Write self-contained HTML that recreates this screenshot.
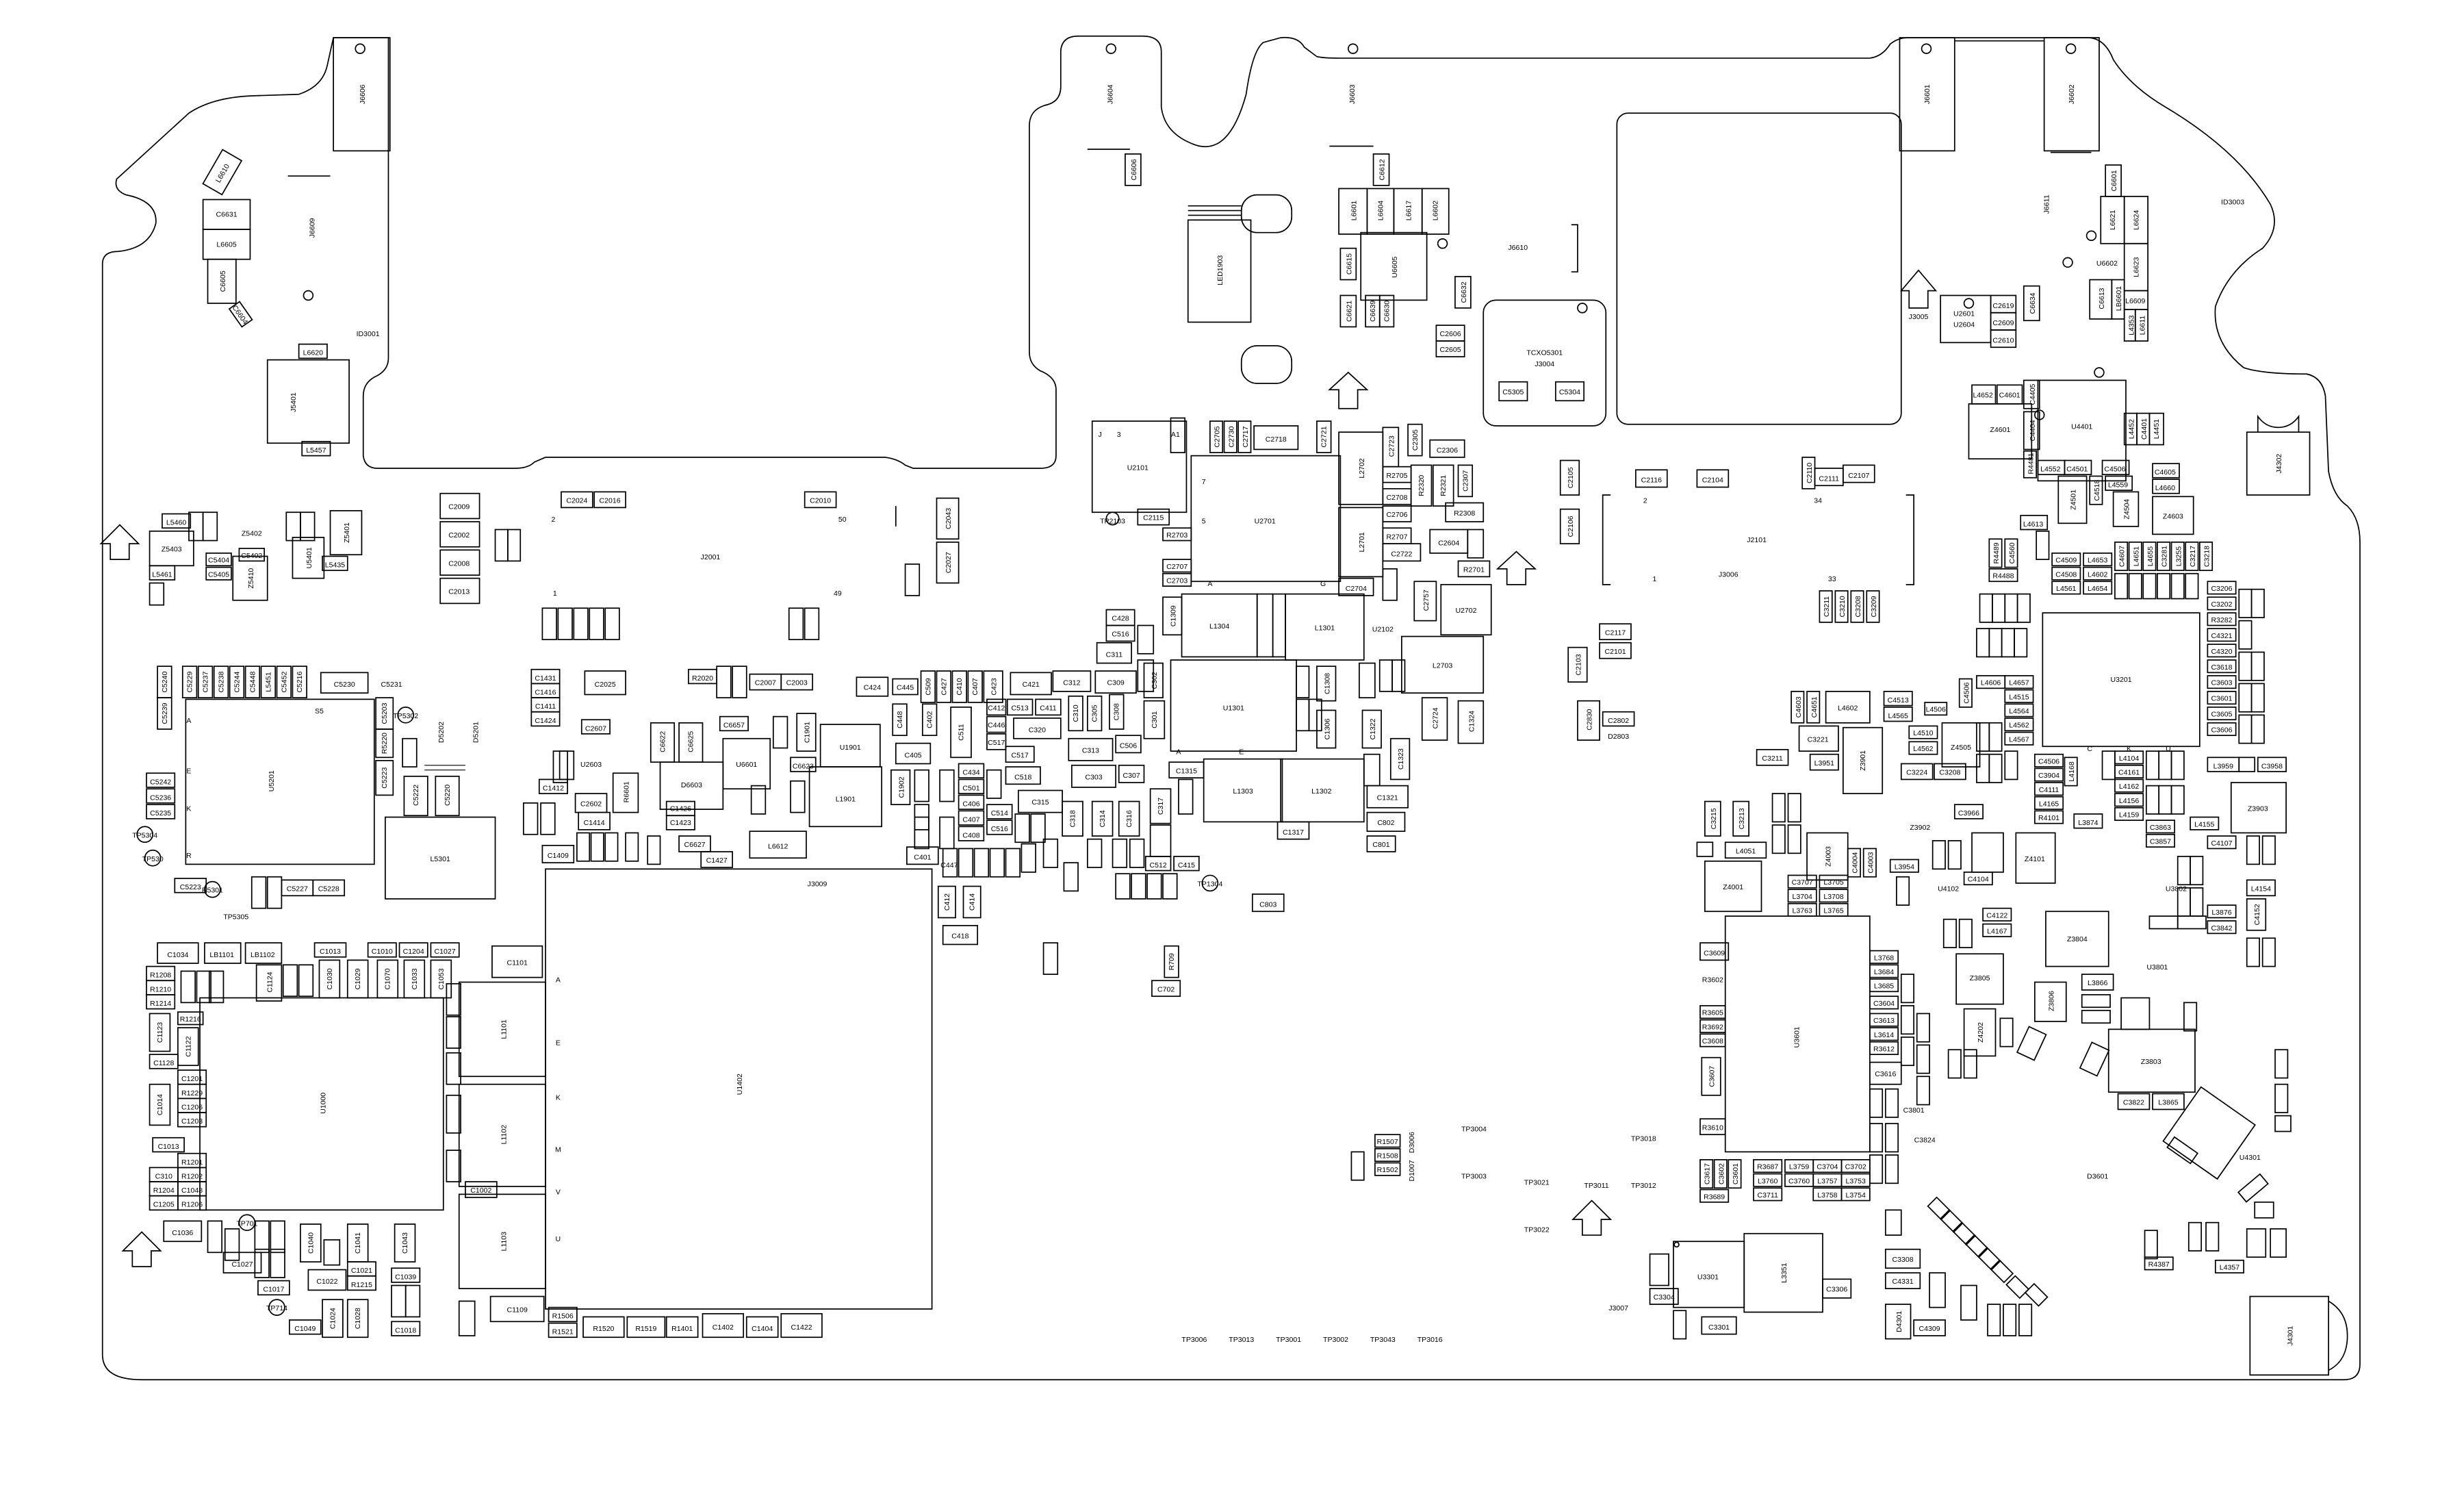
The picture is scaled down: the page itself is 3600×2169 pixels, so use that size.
<!DOCTYPE html>
<html><head><meta charset="utf-8">
<style>
html,body{margin:0;padding:0;background:#fff;}
svg{display:block;}
rect,path,circle,line,polyline,ellipse{fill:none;stroke:#000;stroke-width:.75;}
text{font-family:"Liberation Sans",sans-serif;font-size:4.6px;fill:#000;text-anchor:middle;}
.b{font-size:5.5px;}
.thin{stroke-width:.5;}
</style></head>
<body>
<svg width="3600" height="2169" viewBox="0 0 1568 945" xmlns="http://www.w3.org/2000/svg">
<rect x="0" y="0" width="1568" height="945" style="fill:#fff;stroke:none"/>
<!-- board outline -->
<path d="M65,862 L65,168 Q65,160 75,160 Q95,158 99,142 Q100,128 80,124 Q72,121 74,114 L120,72 Q135,62 160,61 L190,60 Q205,55 208,42 L212,24 L247,24 L247,228 Q247,236 238,240 Q231,244 231,252 L231,290 Q232,298 240,298 L328,298 Q336,298 340,294 L347,291 L563,291 Q571,292 576,296 L581,298 L662,298 Q672,298 672,290 L672,248 Q672,240 662,236 Q655,232 655,224 L655,80 Q655,70 665,67 Q675,65 675,55 L675,32 Q676,23 686,23 L727,23 Q739,23 739,33 L739,68 Q741,85 760,92 Q782,100 793,60 Q797,32 804,27 L815,24 Q826,23 830,30 L838,36 Q842,37 852,37 L1190,37 Q1198,36 1203,28 Q1208,24 1214,24 L1330,24 Q1340,25 1345,38 Q1356,55 1378,68 Q1425,96 1445,130 Q1452,145 1440,158 Q1418,172 1410,195 Q1408,218 1428,234 Q1440,238 1468,238 Q1478,240 1480,252 L1482,300 Q1485,316 1494,322 Q1502,330 1502,345 L1502,868 Q1502,878 1492,878 L90,878 Q65,878 65,862 Z"/>
<rect x="1029" y="72" width="181" height="198" rx="7"/>
<rect x="944" y="191" width="78" height="80" rx="8"/>
<text x="983" y="226">TCXO5301</text><text x="983" y="233">J3004</text>
<!-- top left -->
<rect x="212" y="24" width="36" height="72"/><circle cx="229" cy="31" r="3"/>
<text transform="rotate(-90 230 60)" x="230" y="62">J6606</text>
<line x1="183" y1="112" x2="210" y2="112"/>
<rect x="129" y="103" width="25" height="14" transform="rotate(-60 141 110)"/><text transform="rotate(-60 141 110)" x="141" y="112">L6610</text>
<rect x="129" y="127" width="30" height="19"/><text x="144" y="138">C6631</text>
<rect x="129" y="146" width="30" height="19"/><text x="144" y="157">L6605</text>
<rect x="132" y="165" width="18" height="28"/><text transform="rotate(-90 141 179)" x="141" y="181">C6605</text>
<rect x="146" y="196" width="14" height="8" transform="rotate(55 153 200)"/><text transform="rotate(55 153 200)" x="153" y="202">C6604</text>
<text transform="rotate(-90 198 145)" x="198" y="147">J6609</text>
<circle cx="196" cy="188" r="3"/>
<text x="234" y="214">ID3001</text>
<rect x="190" y="219" width="18" height="9"/><text x="199" y="226">L6620</text>
<rect x="170" y="229" width="52" height="53"/><text transform="rotate(-90 186 256)" x="186" y="258">J5401</text>
<rect x="192" y="281" width="18" height="9"/><text x="201" y="288">L5457</text>
<!-- top middle -->
<text transform="rotate(-90 706 60)" x="706" y="62">J6604</text><circle cx="707" cy="31" r="3"/>
<line x1="692" y1="95" x2="719" y2="95"/>
<rect x="716" y="98" width="10" height="20"/><text transform="rotate(-90 721 108)" x="721" y="110">C6606</text>
<rect x="790" y="124" width="32" height="24" rx="10"/><rect x="790" y="220" width="32" height="24" rx="10"/>
<line x1="756" y1="131" x2="790" y2="131"/><line x1="756" y1="134" x2="790" y2="134"/><line x1="756" y1="137" x2="790" y2="137"/>
<rect x="756" y="140" width="40" height="65"/><text transform="rotate(-90 776 172)" x="776" y="174">LED1903</text>
<text transform="rotate(-90 860 60)" x="860" y="62">J6603</text><circle cx="861" cy="31" r="3"/>
<line x1="846" y1="93" x2="874" y2="93"/>
<rect x="874" y="98" width="10" height="20"/><text transform="rotate(-90 879 108)" x="879" y="110">C6612</text>
<rect x="852" y="120" width="18" height="29"/><text transform="rotate(-90 861 134)" x="861" y="136">L6601</text>
<rect x="870" y="120" width="17" height="29"/><text transform="rotate(-90 878 134)" x="878" y="136">L6604</text>
<rect x="887" y="120" width="18" height="29"/><text transform="rotate(-90 896 134)" x="896" y="136">L6617</text>
<rect x="905" y="120" width="17" height="29"/><text transform="rotate(-90 913 134)" x="913" y="136">L6602</text>
<rect x="866" y="148" width="42" height="43"/><text transform="rotate(-90 887 170)" x="887" y="172">U6605</text>
<circle cx="918" cy="155" r="3"/>
<rect x="853" y="158" width="10" height="20"/><text transform="rotate(-90 858 168)" x="858" y="170">C6615</text>
<rect x="853" y="188" width="10" height="20"/><text transform="rotate(-90 858 198)" x="858" y="200">C6621</text>
<rect x="869" y="188" width="9" height="20"/><text transform="rotate(-90 873 198)" x="873" y="200">C6639</text>
<rect x="878" y="188" width="9" height="20"/><text transform="rotate(-90 882 198)" x="882" y="200">C6630</text>
<rect x="926" y="176" width="10" height="20"/><text transform="rotate(-90 931 186)" x="931" y="188">C6632</text>
<text x="966" y="159">J6610</text>
<polyline points="1000,143 1004,143 1004,173 1000,173"/>
<rect x="914" y="207" width="18" height="10"/><text x="923" y="214">C2606</text>
<rect x="914" y="217" width="18" height="10"/><text x="923" y="224">C2605</text>
<rect x="954" y="243" width="18" height="12"/><text x="963" y="251">C5305</text>
<rect x="990" y="243" width="18" height="12"/><text x="999" y="251">C5304</text>
<circle cx="1007" cy="196" r="3"/>
<path d="M852,260 L852,248 L846,248 L858,237 L870,248 L864,248 L864,260 Z"/>
<!-- top right -->
<rect x="1209" y="24" width="35" height="72"/><circle cx="1226" cy="31" r="3"/><text transform="rotate(-90 1226 60)" x="1226" y="62">J6601</text>
<rect x="1301" y="24" width="35" height="72"/><circle cx="1318" cy="31" r="3"/><text transform="rotate(-90 1318 60)" x="1318" y="62">J6602</text>
<line x1="1244" y1="26" x2="1301" y2="26"/>
<line x1="1305" y1="97" x2="1331" y2="97"/>
<text transform="rotate(-90 1302 130)" x="1302" y="132">J6611</text>
<text x="1421" y="130">ID3003</text>
<rect x="1340" y="105" width="10" height="20"/><text transform="rotate(-90 1345 115)" x="1345" y="117">C6601</text>
<rect x="1337" y="125" width="15" height="30"/><text transform="rotate(-90 1344 140)" x="1344" y="142">L6621</text>
<rect x="1352" y="125" width="15" height="30"/><text transform="rotate(-90 1359 140)" x="1359" y="142">L6624</text>
<rect x="1352" y="155" width="15" height="30"/><text transform="rotate(-90 1359 170)" x="1359" y="172">L6623</text>
<text x="1341" y="169">U6602</text><circle cx="1331" cy="150" r="3"/><circle cx="1316" cy="167" r="3"/>
<rect x="1330" y="178" width="14" height="25"/><text transform="rotate(-90 1337 190)" x="1337" y="192">C6613</text>
<rect x="1344" y="178" width="8" height="25"/><text transform="rotate(-90 1348 190)" x="1348" y="192">LB6601</text>
<rect x="1352" y="185" width="15" height="12"/><text x="1359" y="193">L6609</text>
<rect x="1352" y="197" width="7" height="20"/><rect x="1359" y="197" width="8" height="20"/>
<text transform="rotate(-90 1356 207)" x="1356" y="209">L4353</text><text transform="rotate(-90 1363 207)" x="1363" y="209">L6611</text>
<path d="M1215,196 L1215,185 L1210,185 L1221,172 L1232,185 L1227,185 L1227,196 Z"/><text x="1221" y="203">J3005</text>
<rect x="1235" y="188" width="32" height="30"/><text x="1250" y="201">U2601</text><text x="1250" y="208">U2604</text><circle cx="1253" cy="193" r="3"/>
<rect x="1267" y="188" width="16" height="11"/><text x="1275" y="196">C2619</text>
<rect x="1267" y="199" width="16" height="11"/><text x="1275" y="207">C2609</text>
<rect x="1267" y="210" width="16" height="11"/><text x="1275" y="218">C2610</text>
<rect x="1288" y="182" width="10" height="22"/><text transform="rotate(-90 1293 193)" x="1293" y="195">C6634</text>
<!-- right middle -->
<rect x="1255" y="245" width="15" height="12"/><text x="1262" y="253">L4652</text>
<rect x="1271" y="245" width="16" height="12"/><text x="1279" y="253">C4601</text>
<rect x="1288" y="242" width="10" height="18"/><text transform="rotate(-90 1293 251)" x="1293" y="253">C4405</text>
<rect x="1253" y="257" width="40" height="35"/><text x="1273" y="275">Z4601</text><circle cx="1298" cy="264" r="3"/>
<rect x="1288" y="262" width="10" height="24"/><text transform="rotate(-90 1293 274)" x="1293" y="276">C4404</text>
<rect x="1297" y="242" width="56" height="64"/><text x="1325" y="273">U4401</text><circle cx="1336" cy="237" r="3"/>
<rect x="1352" y="263" width="8" height="20"/><text transform="rotate(-90 1356 273)" x="1356" y="275">L4452</text>
<rect x="1360" y="263" width="8" height="20"/><text transform="rotate(-90 1364 273)" x="1364" y="275">C4401</text>
<rect x="1368" y="263" width="9" height="20"/><text transform="rotate(-90 1372 273)" x="1372" y="275">L4451</text>
<rect x="1430" y="275" width="40" height="40"/><text transform="rotate(-90 1450 295)" x="1450" y="297">J4302</text>
<path d="M1437,275 L1437,265 Q1442,272 1450,272 Q1458,272 1463,265 L1463,275"/>
<rect x="1288" y="287" width="8" height="17"/><text transform="rotate(-90 1292 295)" x="1292" y="297">R4481</text>
<rect x="1297" y="293" width="17" height="9"/><text x="1305" y="300">L4552</text>
<rect x="1314" y="293" width="17" height="9"/><text x="1322" y="300">C4501</text>
<rect x="1338" y="293" width="17" height="9"/><text x="1346" y="300">C4506</text>
<rect x="1370" y="295" width="17" height="9"/><text x="1378" y="302">C4605</text>
<rect x="1340" y="303" width="17" height="9"/><text x="1348" y="310">L4559</text>
<rect x="1370" y="305" width="17" height="9"/><text x="1378" y="312">L4660</text>
<rect x="1330" y="303" width="8" height="18"/><text transform="rotate(-90 1334 312)" x="1334" y="314">C4518</text>
<rect x="1310" y="303" width="18" height="30"/><text transform="rotate(-90 1319 318)" x="1319" y="320">Z4501</text>
<rect x="1345" y="313" width="16" height="22"/><text transform="rotate(-90 1353 324)" x="1353" y="326">Z4504</text>
<rect x="1370" y="316" width="26" height="24"/><text x="1383" y="330">Z4603</text>
<rect x="1286" y="328" width="17" height="9"/><text x="1294" y="335">L4613</text>
<rect x="1296" y="338" width="8" height="18"/><rect x="1306" y="352" width="18" height="8"/><text x="1315" y="358">C4509</text>
<rect x="1306" y="361" width="18" height="8"/><text x="1315" y="367">C4508</text>
<rect x="1306" y="370" width="18" height="8"/><text x="1315" y="376">L4561</text>
<rect x="1326" y="352" width="18" height="8"/><text x="1335" y="358">L4653</text>
<rect x="1326" y="361" width="18" height="8"/><text x="1335" y="367">L4602</text>
<rect x="1326" y="370" width="18" height="8"/><text x="1335" y="376">L4654</text>
<rect x="1346" y="345" width="8" height="18"/><rect x="1355" y="345" width="8" height="18"/><rect x="1364" y="345" width="8" height="18"/><rect x="1373" y="345" width="8" height="18"/><rect x="1382" y="345" width="8" height="18"/><rect x="1391" y="345" width="8" height="18"/><rect x="1400" y="345" width="8" height="18"/>
<text transform="rotate(-90 1350 354)" x="1350" y="356">C4607</text><text transform="rotate(-90 1359 354)" x="1359" y="356">L4651</text><text transform="rotate(-90 1368 354)" x="1368" y="356">L4655</text><text transform="rotate(-90 1377 354)" x="1377" y="356">C3281</text><text transform="rotate(-90 1386 354)" x="1386" y="356">L3255</text><text transform="rotate(-90 1395 354)" x="1395" y="356">C3217</text><text transform="rotate(-90 1404 354)" x="1404" y="356">C3218</text>
<rect x="1346" y="365" width="8" height="16"/><rect x="1355" y="365" width="8" height="16"/><rect x="1364" y="365" width="8" height="16"/><rect x="1373" y="365" width="8" height="16"/><rect x="1382" y="365" width="8" height="16"/><rect x="1391" y="365" width="8" height="16"/>
<rect x="1266" y="343" width="8" height="18"/><rect x="1276" y="343" width="8" height="18"/><text transform="rotate(-90 1270 352)" x="1270" y="354">R4489</text><text transform="rotate(-90 1280 352)" x="1280" y="354">C4560</text>
<rect x="1266" y="362" width="18" height="8"/><text x="1275" y="368">R4488</text>
<!-- U3201 region -->
<rect x="1300" y="390" width="100" height="85"/><text x="1350" y="434">U3201</text>
<text x="1330" y="478">C</text><text x="1355" y="478">K</text><text x="1380" y="478">U</text>
<rect x="1260" y="378" width="8" height="18"/><rect x="1268" y="378" width="8" height="18"/><rect x="1276" y="378" width="8" height="18"/><rect x="1284" y="378" width="8" height="18"/>
<rect x="1258" y="400" width="8" height="18"/><rect x="1266" y="400" width="8" height="18"/><rect x="1274" y="400" width="8" height="18"/><rect x="1282" y="400" width="8" height="18"/>
<rect x="1258" y="430" width="18" height="8"/><text x="1267" y="436">L4606</text>
<rect x="1276" y="430" width="18" height="8"/><text x="1285" y="436">L4657</text>
<rect x="1276" y="439" width="18" height="8"/><text x="1285" y="445">L4515</text>
<rect x="1276" y="448" width="18" height="8"/><text x="1285" y="454">L4564</text>
<rect x="1276" y="457" width="18" height="8"/><text x="1285" y="463">L4562</text>
<rect x="1276" y="466" width="18" height="8"/><text x="1285" y="472">L4567</text>
<rect x="1247" y="432" width="8" height="18"/><text transform="rotate(-90 1251 441)" x="1251" y="443">C4506</text>
<rect x="1258" y="460" width="8" height="18"/><rect x="1266" y="460" width="8" height="18"/>
<rect x="1258" y="480" width="8" height="18"/><rect x="1266" y="480" width="8" height="18"/><rect x="1276" y="478" width="8" height="18"/>
<rect x="1295" y="480" width="18" height="8"/><text x="1304" y="486">C4506</text>
<rect x="1295" y="489" width="18" height="8"/><text x="1304" y="495">C3904</text>
<rect x="1295" y="498" width="18" height="8"/><text x="1304" y="504">C4111</text>
<rect x="1295" y="507" width="18" height="8"/><text x="1304" y="513">L4165</text>
<rect x="1295" y="516" width="18" height="8"/><text x="1304" y="522">R4101</text>
<rect x="1314" y="482" width="8" height="18"/><text transform="rotate(-90 1318 491)" x="1318" y="493">L4168</text>
<rect x="1320" y="518" width="18" height="9"/><text x="1329" y="525">L3874</text>
<rect x="1338" y="478" width="8" height="18"/><rect x="1346" y="478" width="18" height="8"/><text x="1355" y="484">L4104</text>
<rect x="1346" y="487" width="18" height="8"/><text x="1355" y="493">C4161</text>
<rect x="1346" y="496" width="18" height="8"/><text x="1355" y="502">L4162</text>
<rect x="1346" y="505" width="18" height="8"/><text x="1355" y="511">L4156</text>
<rect x="1346" y="514" width="18" height="8"/><text x="1355" y="520">L4159</text>
<rect x="1366" y="478" width="8" height="18"/><rect x="1374" y="478" width="8" height="18"/><rect x="1382" y="478" width="8" height="18"/>
<rect x="1366" y="500" width="8" height="18"/><rect x="1374" y="500" width="8" height="18"/><rect x="1382" y="500" width="8" height="18"/>
<rect x="1366" y="522" width="18" height="8"/><text x="1375" y="528">C3863</text>
<rect x="1366" y="531" width="18" height="8"/><text x="1375" y="537">C3857</text>
<rect x="1394" y="520" width="18" height="8"/><text x="1403" y="526">L4155</text>
<rect x="1405" y="482" width="20" height="9"/><text x="1415" y="489">L3959</text>
<rect x="1425" y="482" width="10" height="9"/><rect x="1437" y="482" width="18" height="9"/><text x="1446" y="489">C3958</text>
<rect x="1420" y="498" width="35" height="32"/><text x="1437" y="516">Z3903</text>
<rect x="1405" y="532" width="18" height="8"/><text x="1414" y="538">C4107</text>
<rect x="1430" y="532" width="8" height="18"/><rect x="1440" y="532" width="8" height="18"/>
<!-- right col of U3201 -->
<rect x="1405" y="370" width="18" height="8"/><text x="1414" y="376">C3206</text>
<rect x="1405" y="380" width="18" height="8"/><text x="1414" y="386">C3202</text>
<rect x="1405" y="390" width="18" height="8"/><text x="1414" y="396">R3282</text>
<rect x="1405" y="400" width="18" height="8"/><text x="1414" y="406">C4321</text>
<rect x="1405" y="410" width="18" height="8"/><text x="1414" y="416">C4320</text>
<rect x="1405" y="420" width="18" height="8"/><text x="1414" y="426">C3618</text>
<rect x="1405" y="430" width="18" height="8"/><text x="1414" y="436">C3603</text>
<rect x="1405" y="440" width="18" height="8"/><text x="1414" y="446">C3601</text>
<rect x="1405" y="450" width="18" height="8"/><text x="1414" y="456">C3605</text>
<rect x="1405" y="460" width="18" height="8"/><text x="1414" y="466">C3606</text>
<rect x="1425" y="375" width="8" height="18"/><rect x="1433" y="375" width="8" height="18"/><rect x="1425" y="395" width="8" height="18"/>
<rect x="1425" y="415" width="8" height="18"/><rect x="1433" y="415" width="8" height="18"/><rect x="1425" y="435" width="8" height="18"/><rect x="1433" y="435" width="8" height="18"/><rect x="1425" y="455" width="8" height="18"/><rect x="1433" y="455" width="8" height="18"/>
<!-- J2101 -->
<polyline points="1025,315 1020,315 1020,372 1025,372"/>
<polyline points="1213,315 1218,315 1218,372 1213,372"/>
<text x="1047" y="320">2</text><text x="1157" y="320">34</text><text x="1053" y="370">1</text><text x="1166" y="370">33</text>
<text x="1118" y="345">J2101</text><text x="1100" y="367">J3006</text>
<rect x="1041" y="299" width="20" height="11"/><text x="1051" y="307">C2116</text>
<rect x="1080" y="299" width="20" height="11"/><text x="1090" y="307">C2104</text>
<rect x="1147" y="291" width="8" height="20"/><text transform="rotate(-90 1151 301)" x="1151" y="303">C2110</text>
<rect x="1155" y="298" width="18" height="11"/><text x="1164" y="306">C2111</text>
<rect x="1173" y="296" width="20" height="11"/><text x="1183" y="304">C2107</text>
<rect x="1158" y="376" width="8" height="20"/><rect x="1168" y="376" width="8" height="20"/><rect x="1178" y="376" width="8" height="20"/><rect x="1188" y="376" width="8" height="20"/>
<text transform="rotate(-90 1162 386)" x="1162" y="388">C3211</text><text transform="rotate(-90 1172 386)" x="1172" y="388">C3210</text><text transform="rotate(-90 1182 386)" x="1182" y="388">C3208</text><text transform="rotate(-90 1192 386)" x="1192" y="388">C3209</text>
<rect x="993" y="293" width="12" height="22"/><text transform="rotate(-90 999 304)" x="999" y="306">C2105</text>
<rect x="993" y="324" width="12" height="22"/><text transform="rotate(-90 999 335)" x="999" y="337">C2106</text>
<path d="M959,372 L959,362 L953,362 L965,351 L977,362 L971,362 L971,372 Z"/>
<rect x="1018" y="397" width="20" height="10"/><text x="1028" y="404">C2117</text>
<rect x="1018" y="409" width="20" height="10"/><text x="1028" y="416">C2101</text>
<rect x="998" y="412" width="12" height="22"/><text transform="rotate(-90 1004 423)" x="1004" y="425">C2103</text>
<rect x="1004" y="446" width="14" height="25"/><text transform="rotate(-90 1011 458)" x="1011" y="460">C2830</text>
<rect x="1020" y="453" width="20" height="9"/><text x="1030" y="460">C2802</text><text x="1030" y="470">D2803</text>
<!-- right cluster -->
<rect x="1140" y="440" width="8" height="20"/><rect x="1150" y="440" width="8" height="20"/>
<text transform="rotate(-90 1144 450)" x="1144" y="452">C4603</text><text transform="rotate(-90 1154 450)" x="1154" y="452">C4651</text>
<rect x="1162" y="440" width="28" height="20"/><text x="1176" y="452">L4602</text>
<rect x="1199" y="440" width="18" height="9"/><text x="1208" y="447">C4513</text>
<rect x="1199" y="450" width="18" height="9"/><text x="1208" y="457">L4565</text>
<rect x="1145" y="462" width="25" height="16"/><text x="1157" y="472">C3221</text>
<rect x="1118" y="477" width="20" height="10"/><text x="1128" y="484">C3211</text>
<rect x="1152" y="480" width="18" height="10"/><text x="1161" y="487">L3951</text>
<rect x="1173" y="463" width="25" height="42"/><text transform="rotate(-90 1185 484)" x="1185" y="486">Z3901</text>
<rect x="1215" y="462" width="18" height="8"/><text x="1224" y="468">L4510</text>
<rect x="1215" y="472" width="18" height="8"/><text x="1224" y="478">L4562</text>
<rect x="1225" y="447" width="14" height="8"/><text x="1232" y="453">L4506</text>
<rect x="1236" y="460" width="24" height="28"/><text x="1248" y="477">Z4505</text>
<rect x="1210" y="486" width="20" height="10"/><text x="1220" y="493">C3224</text>
<rect x="1231" y="486" width="20" height="10"/><text x="1241" y="493">C3208</text>
<rect x="1244" y="512" width="18" height="9"/><text x="1253" y="519">C3966</text>
<rect x="1085" y="510" width="10" height="22"/><text transform="rotate(-90 1090 521)" x="1090" y="523">C3215</text>
<rect x="1103" y="510" width="10" height="22"/><text transform="rotate(-90 1108 521)" x="1108" y="523">C3213</text>
<rect x="1080" y="536" width="10" height="9"/><rect x="1098" y="536" width="26" height="10"/><text x="1111" y="543">L4051</text>
<rect x="1128" y="505" width="8" height="18"/><rect x="1128" y="525" width="8" height="18"/><rect x="1138" y="505" width="8" height="18"/><rect x="1138" y="525" width="8" height="18"/>
<rect x="1085" y="548" width="36" height="32"/><text x="1103" y="566">Z4001</text>
<rect x="1150" y="530" width="26" height="30"/><text transform="rotate(-90 1163 545)" x="1163" y="547">Z4003</text>
<rect x="1176" y="540" width="8" height="18"/><rect x="1186" y="540" width="8" height="18"/>
<text transform="rotate(-90 1180 549)" x="1180" y="551">C4004</text><text transform="rotate(-90 1190 549)" x="1190" y="551">C4003</text>
<text x="1222" y="528">Z3902</text>
<rect x="1203" y="547" width="18" height="8"/><text x="1212" y="553">L3954</text>
<rect x="1207" y="558" width="8" height="18"/>
<rect x="1138" y="557" width="18" height="8"/><text x="1147" y="563">C3707</text>
<rect x="1138" y="566" width="18" height="8"/><text x="1147" y="572">L3704</text>
<rect x="1138" y="575" width="18" height="8"/><text x="1147" y="581">L3763</text>
<rect x="1158" y="557" width="18" height="8"/><text x="1167" y="563">L3705</text>
<rect x="1158" y="566" width="18" height="8"/><text x="1167" y="572">L3708</text>
<rect x="1158" y="575" width="18" height="8"/><text x="1167" y="581">L3765</text>
<text x="1240" y="567">U4102</text>
<rect x="1230" y="535" width="8" height="18"/><rect x="1240" y="535" width="8" height="18"/>
<rect x="1255" y="530" width="20" height="25"/><rect x="1283" y="530" width="25" height="32"/><text x="1295" y="548">Z4101</text>
<rect x="1250" y="555" width="18" height="8"/><text x="1259" y="561">C4104</text>
<rect x="1262" y="578" width="18" height="8"/><text x="1271" y="584">C4122</text>
<rect x="1262" y="588" width="18" height="8"/><text x="1271" y="594">L4167</text>
<rect x="1237" y="585" width="8" height="18"/><rect x="1247" y="585" width="8" height="18"/>
<!-- U3601 -->
<rect x="1098" y="583" width="92" height="150"/><text transform="rotate(-90 1143 660)" x="1143" y="662">U3601</text>
<rect x="1082" y="600" width="18" height="11"/><text x="1091" y="608">C3609</text>
<text x="1090" y="625">R3602</text>
<rect x="1082" y="640" width="16" height="8"/><text x="1090" y="646">R3605</text>
<rect x="1082" y="649" width="16" height="8"/><text x="1090" y="655">R3692</text>
<rect x="1082" y="658" width="16" height="8"/><text x="1090" y="664">C3608</text>
<rect x="1083" y="673" width="12" height="24"/><text transform="rotate(-90 1089 685)" x="1089" y="687">C3607</text>
<rect x="1082" y="712" width="16" height="10"/><text x="1090" y="719">R3610</text>
<rect x="1082" y="738" width="8" height="18"/><rect x="1091" y="738" width="8" height="18"/><rect x="1100" y="738" width="8" height="18"/>
<text transform="rotate(-90 1086 747)" x="1086" y="749">C3617</text><text transform="rotate(-90 1095 747)" x="1095" y="749">C3602</text><text transform="rotate(-90 1104 747)" x="1104" y="749">C3601</text>
<rect x="1082" y="757" width="18" height="8"/><text x="1091" y="763">R3689</text>
<rect x="1116" y="738" width="18" height="8"/><text x="1125" y="744">R3687</text>
<rect x="1116" y="747" width="18" height="8"/><text x="1125" y="753">L3760</text>
<rect x="1116" y="756" width="18" height="8"/><text x="1125" y="762">C3711</text>
<rect x="1136" y="738" width="18" height="8"/><text x="1145" y="744">L3759</text>
<rect x="1136" y="747" width="18" height="8"/><text x="1145" y="753">C3760</text>
<rect x="1154" y="738" width="18" height="8"/><text x="1163" y="744">C3704</text>
<rect x="1154" y="747" width="18" height="8"/><text x="1163" y="753">L3757</text>
<rect x="1154" y="756" width="18" height="8"/><text x="1163" y="762">L3758</text>
<rect x="1172" y="738" width="18" height="8"/><text x="1181" y="744">C3702</text>
<rect x="1172" y="747" width="18" height="8"/><text x="1181" y="753">L3753</text>
<rect x="1172" y="756" width="18" height="8"/><text x="1181" y="762">L3754</text>
<rect x="1190" y="605" width="18" height="8"/><text x="1199" y="611">L3768</text>
<rect x="1190" y="614" width="18" height="8"/><text x="1199" y="620">L3684</text>
<rect x="1190" y="623" width="18" height="8"/><text x="1199" y="629">L3685</text>
<rect x="1190" y="634" width="18" height="8"/><text x="1199" y="640">C3604</text>
<rect x="1190" y="645" width="18" height="8"/><text x="1199" y="651">C3613</text>
<rect x="1190" y="654" width="18" height="8"/><text x="1199" y="660">L3614</text>
<rect x="1190" y="663" width="18" height="8"/><text x="1199" y="669">R3612</text>
<rect x="1190" y="676" width="20" height="14"/><text x="1200" y="685">C3616</text>
<rect x="1190" y="693" width="8" height="18"/><rect x="1200" y="693" width="8" height="18"/>
<rect x="1190" y="715" width="8" height="18"/><rect x="1200" y="715" width="8" height="18"/><rect x="1190" y="735" width="8" height="18"/><rect x="1200" y="735" width="8" height="18"/>
<text x="1218" y="708">C3801</text><text x="1225" y="727">C3824</text>
<rect x="1210" y="620" width="8" height="18"/><rect x="1210" y="640" width="8" height="18"/><rect x="1210" y="660" width="8" height="18"/><rect x="1220" y="645" width="8" height="18"/><rect x="1220" y="665" width="8" height="18"/><rect x="1220" y="685" width="8" height="18"/>
<rect x="1245" y="607" width="30" height="32"/><text x="1260" y="624">Z3805</text>
<rect x="1250" y="642" width="20" height="30"/><text transform="rotate(-90 1260 657)" x="1260" y="659">Z4202</text>
<rect x="1273" y="648" width="8" height="18"/>
<rect x="1240" y="668" width="8" height="18"/><rect x="1250" y="668" width="8" height="18"/>
<rect x="1302" y="580" width="40" height="35"/><text x="1322" y="599">Z3804</text>
<rect x="1295" y="625" width="20" height="25"/><text transform="rotate(-90 1305 637)" x="1305" y="639">Z3806</text>
<rect x="1325" y="620" width="20" height="10"/><text x="1335" y="627">L3866</text>
<rect x="1325" y="633" width="18" height="8"/><rect x="1325" y="643" width="18" height="8"/>
<rect x="1350" y="635" width="18" height="20"/>
<rect x="1287" y="655" width="12" height="18" transform="rotate(25 1293 664)"/>
<rect x="1327" y="665" width="12" height="18" transform="rotate(25 1333 674)"/>
<rect x="1342" y="655" width="55" height="40"/><text x="1369" y="677">Z3803</text>
<rect x="1348" y="696" width="20" height="10"/><text x="1358" y="703">C3822</text>
<rect x="1370" y="696" width="20" height="10"/><text x="1380" y="703">L3865</text>
<text x="1373" y="617">U3801</text><text x="1385" y="567">U3802</text>
<rect x="1405" y="576" width="18" height="8"/><text x="1414" y="582">L3876</text>
<rect x="1405" y="586" width="18" height="8"/><text x="1414" y="592">C3842</text>
<rect x="1368" y="583" width="18" height="8"/><rect x="1386" y="583" width="18" height="8"/>
<rect x="1386" y="545" width="8" height="18"/><rect x="1394" y="545" width="8" height="18"/><rect x="1386" y="565" width="8" height="18"/><rect x="1394" y="565" width="8" height="18"/>
<rect x="1430" y="560" width="18" height="10"/><text x="1439" y="567">L4154</text>
<rect x="1430" y="572" width="12" height="20"/><text transform="rotate(-90 1436 582)" x="1436" y="584">C4152</text>
<rect x="1430" y="597" width="8" height="18"/><rect x="1440" y="597" width="8" height="18"/>
<rect x="1390" y="638" width="8" height="18"/>
<rect x="1448" y="668" width="8" height="18"/><rect x="1448" y="690" width="8" height="18"/><rect x="1448" y="710" width="10" height="10"/>
<rect x="1385" y="700" width="42" height="42" transform="rotate(35 1406 721)"/><text x="1432" y="738">U4301</text>
<rect x="1380" y="728" width="18" height="8" transform="rotate(35 1389 732)"/>
<rect x="1425" y="752" width="18" height="8" transform="rotate(-40 1434 756)"/>
<rect x="1435" y="765" width="12" height="10"/>
<rect x="1365" y="783" width="8" height="18"/><rect x="1365" y="800" width="18" height="8"/><text x="1374" y="806">R4387</text>
<rect x="1393" y="778" width="8" height="18"/><rect x="1404" y="778" width="8" height="18"/>
<rect x="1410" y="802" width="18" height="8"/><text x="1419" y="808">L4357</text>
<rect x="1430" y="782" width="12" height="18"/><rect x="1445" y="782" width="10" height="18"/>
<rect x="1432" y="825" width="50" height="50"/><text transform="rotate(-90 1457 850)" x="1457" y="852">J4301</text>
<path d="M1482,828 Q1494,835 1494,850 Q1494,866 1482,872"/>
<!-- U3301 -->
<rect x="1050" y="798" width="12" height="20"/><rect x="1050" y="820" width="18" height="10"/><text x="1059" y="827">C3304</text>
<rect x="1065" y="790" width="45" height="42"/><text x="1087" y="814">U3301</text><circle cx="1067" cy="792" r="1.5"/>
<rect x="1065" y="834" width="8" height="18"/><rect x="1083" y="838" width="22" height="11"/><text x="1094" y="846">C3301</text>
<rect x="1110" y="785" width="50" height="50"/><text transform="rotate(-90 1135 810)" x="1135" y="812">L3351</text>
<rect x="1160" y="814" width="18" height="12"/><text x="1169" y="822">C3306</text>
<rect x="1200" y="795" width="22" height="12"/><text x="1211" y="803">C3308</text>
<rect x="1200" y="810" width="22" height="10"/><text x="1211" y="817">C4331</text>
<rect x="1228" y="810" width="10" height="22"/>
<rect x="1248" y="818" width="10" height="22"/>
<rect x="1200" y="830" width="16" height="22"/><text transform="rotate(-90 1208 841)" x="1208" y="843">D4301</text>
<rect x="1218" y="840" width="20" height="10"/><text x="1228" y="847">C4309</text>
<rect x="1265" y="830" width="8" height="20"/><rect x="1275" y="830" width="8" height="20"/><rect x="1285" y="830" width="8" height="20"/>
<rect x="1228" y="765" width="12" height="8" transform="rotate(45 1234 769)"/><rect x="1236" y="773" width="12" height="8" transform="rotate(45 1242 777)"/><rect x="1244" y="781" width="12" height="8" transform="rotate(45 1250 785)"/><rect x="1252" y="789" width="12" height="8" transform="rotate(45 1258 793)"/><rect x="1260" y="797" width="12" height="8" transform="rotate(45 1266 801)"/><rect x="1268" y="805" width="12" height="8" transform="rotate(45 1274 809)"/><rect x="1278" y="815" width="12" height="8" transform="rotate(45 1284 819)"/><rect x="1290" y="820" width="12" height="8" transform="rotate(45 1296 824)"/>
<rect x="1200" y="770" width="10" height="16"/>
<text x="1335" y="750">D3601</text>
<!-- TP labels -->
<text x="938" y="720">TP3004</text><text x="938" y="750">TP3003</text><text x="978" y="754">TP3021</text>
<text x="1016" y="756">TP3011</text><text x="1046" y="756">TP3012</text><text x="1046" y="726">TP3018</text>
<text x="978" y="784">TP3022</text><text x="1030" y="834">J3007</text>
<text x="760" y="854">TP3006</text><text x="790" y="854">TP3013</text><text x="820" y="854">TP3001</text><text x="850" y="854">TP3002</text><text x="880" y="854">TP3043</text><text x="910" y="854">TP3016</text>
<path d="M1007,786 L1007,776 L1001,776 L1013,764 L1025,776 L1019,776 L1019,786 Z"/>
<rect x="875" y="722" width="16" height="8"/><text x="883" y="728">R1507</text>
<rect x="875" y="731" width="16" height="8"/><text x="883" y="737">R1508</text>
<rect x="875" y="740" width="16" height="8"/><text x="883" y="746">R1502</text>
<rect x="860" y="733" width="8" height="18"/>
<text transform="rotate(-90 898 727)" x="898" y="729">D3006</text><text transform="rotate(-90 898 745)" x="898" y="747">D1007</text>
<!-- central U2701 etc -->
<rect x="695" y="268" width="60" height="58"/><text x="724" y="299">U2101</text><text x="700" y="278">J</text><text x="712" y="278">3</text><text x="748" y="278">A1</text>
<circle cx="708" cy="330" r="4"/><text x="708" y="333">TP2103</text>
<rect x="724" y="324" width="20" height="10"/><text x="734" y="331">C2115</text>
<rect x="740" y="336" width="18" height="8"/><text x="749" y="342">R2703</text>
<rect x="740" y="356" width="18" height="8"/><text x="749" y="362">C2707</text>
<rect x="740" y="365" width="18" height="8"/><text x="749" y="371">C2703</text>
<rect x="745" y="266" width="9" height="22"/>
<rect x="770" y="268" width="8" height="20"/><rect x="779" y="268" width="8" height="20"/><rect x="788" y="268" width="8" height="20"/>
<text transform="rotate(-90 774 278)" x="774" y="280">C2705</text><text transform="rotate(-90 783 278)" x="783" y="280">C2730</text><text transform="rotate(-90 792 278)" x="792" y="280">C2717</text>
<rect x="798" y="271" width="28" height="15"/><text x="812" y="281">C2718</text>
<rect x="838" y="268" width="9" height="20"/><text transform="rotate(-90 842 278)" x="842" y="280">C2721</text>
<rect x="758" y="290" width="95" height="80"/><text x="805" y="333">U2701</text><text x="766" y="308">7</text><text x="766" y="333">5</text><text x="770" y="373">A</text><text x="842" y="373">G</text>
<rect x="852" y="275" width="28" height="46"/><text transform="rotate(-90 866 298)" x="866" y="300">L2702</text>
<rect x="852" y="323" width="28" height="44"/><text transform="rotate(-90 866 345)" x="866" y="347">L2701</text>
<rect x="880" y="272" width="10" height="25"/><text transform="rotate(-90 885 284)" x="885" y="286">C2723</text>
<rect x="896" y="270" width="9" height="20"/><text transform="rotate(-90 900 280)" x="900" y="282">C2305</text>
<rect x="910" y="280" width="22" height="11"/><text x="921" y="288">C2306</text>
<rect x="880" y="297" width="18" height="10"/><text x="889" y="304">R2705</text>
<rect x="898" y="296" width="13" height="26"/><text transform="rotate(-90 904 309)" x="904" y="311">R2320</text>
<rect x="912" y="296" width="13" height="26"/><text transform="rotate(-90 918 309)" x="918" y="311">R2321</text>
<rect x="928" y="296" width="9" height="20"/><text transform="rotate(-90 932 306)" x="932" y="308">C2307</text>
<rect x="880" y="311" width="18" height="10"/><text x="889" y="318">C2708</text>
<rect x="880" y="322" width="18" height="10"/><text x="889" y="329">C2706</text>
<rect x="920" y="320" width="24" height="12"/><text x="932" y="328">R2308</text>
<rect x="880" y="336" width="18" height="10"/><text x="889" y="343">R2707</text>
<rect x="880" y="346" width="24" height="11"/><text x="892" y="354">C2722</text>
<rect x="910" y="337" width="24" height="15"/><text x="922" y="347">C2604</text>
<rect x="934" y="337" width="10" height="18"/>
<rect x="852" y="368" width="22" height="11"/><text x="863" y="376">C2704</text>
<rect x="880" y="362" width="9" height="20"/>
<rect x="900" y="370" width="14" height="25"/><text transform="rotate(-90 907 382)" x="907" y="384">C2757</text>
<rect x="928" y="357" width="20" height="10"/><text x="938" y="364">R2701</text>
<rect x="917" y="372" width="32" height="32"/><text x="933" y="390">U2702</text>
<text x="880" y="402">U2102</text>
<rect x="892" y="405" width="52" height="36"/><text x="918" y="425">L2703</text>
<rect x="704" y="388" width="18" height="10"/><text x="713" y="395">C428</text>
<rect x="704" y="398" width="18" height="10"/><text x="713" y="405">C516</text>
<rect x="698" y="409" width="22" height="13"/><text x="709" y="418">C311</text>
<rect x="740" y="380" width="12" height="24"/><text transform="rotate(-90 746 392)" x="746" y="394">C1309</text>
<rect x="724" y="398" width="10" height="18"/><rect x="724" y="420" width="10" height="20"/>
<rect x="752" y="378" width="48" height="40"/><text x="776" y="400">L1304</text>
<rect x="800" y="378" width="10" height="40"/><rect x="810" y="378" width="8" height="40"/>
<rect x="818" y="378" width="50" height="42"/><text x="843" y="401">L1301</text>
<rect x="745" y="420" width="80" height="58"/><text x="785" y="452">U1301</text><text x="790" y="480">E</text><text x="750" y="480">A</text>
<rect x="825" y="424" width="8" height="20"/><rect x="825" y="445" width="8" height="20"/><rect x="833" y="445" width="8" height="20"/>
<rect x="838" y="424" width="12" height="22"/><text transform="rotate(-90 844 435)" x="844" y="437">C1308</text>
<rect x="838" y="452" width="12" height="24"/><text transform="rotate(-90 844 464)" x="844" y="466">C1306</text>
<rect x="865" y="422" width="10" height="22"/><rect x="878" y="420" width="8" height="20"/><rect x="886" y="420" width="8" height="20"/>
<rect x="867" y="452" width="12" height="24"/><text transform="rotate(-90 873 464)" x="873" y="466">C1322</text>
<rect x="885" y="470" width="12" height="26"/><text transform="rotate(-90 891 483)" x="891" y="485">C1323</text>
<rect x="868" y="480" width="10" height="20"/>
<rect x="870" y="500" width="26" height="14"/><text x="883" y="509">C1321</text>
<rect x="870" y="517" width="24" height="12"/><text x="882" y="525">C802</text>
<rect x="870" y="532" width="18" height="10"/><text x="879" y="539">C801</text>
<rect x="905" y="444" width="16" height="27"/><text transform="rotate(-90 913 457)" x="913" y="459">C2724</text>
<rect x="928" y="446" width="16" height="27"/><text transform="rotate(-90 936 459)" x="936" y="461">C1324</text>
<rect x="744" y="485" width="22" height="10"/><text x="755" y="492">C1315</text>
<rect x="750" y="496" width="9" height="22"/>
<rect x="766" y="483" width="50" height="40"/><text x="791" y="505">L1303</text>
<rect x="815" y="483" width="53" height="40"/><text x="841" y="505">L1302</text>
<rect x="813" y="523" width="20" height="11"/><text x="823" y="531">C1317</text>
<!-- C4xx cluster -->
<rect x="545" y="431" width="20" height="12"/><text x="555" y="439">C424</text>
<rect x="568" y="432" width="16" height="10"/><text x="576" y="439">C445</text>
<rect x="586" y="427" width="9" height="20"/><rect x="596" y="427" width="9" height="20"/><rect x="606" y="427" width="9" height="20"/><rect x="616" y="427" width="9" height="20"/><rect x="626" y="427" width="12" height="20"/>
<text transform="rotate(-90 590 437)" x="590" y="439">C509</text><text transform="rotate(-90 600 437)" x="600" y="439">C427</text><text transform="rotate(-90 610 437)" x="610" y="439">C410</text><text transform="rotate(-90 620 437)" x="620" y="439">C407</text><text transform="rotate(-90 632 437)" x="632" y="439">C423</text>
<rect x="643" y="428" width="26" height="14"/><text x="656" y="437">C421</text>
<rect x="670" y="427" width="24" height="13"/><text x="682" y="436">C312</text>
<rect x="697" y="427" width="26" height="14"/><text x="710" y="436">C309</text>
<rect x="728" y="422" width="12" height="22"/><text transform="rotate(-90 734 433)" x="734" y="435">C302</text>
<rect x="568" y="448" width="9" height="20"/><text transform="rotate(-90 572 458)" x="572" y="460">C448</text>
<rect x="587" y="448" width="9" height="20"/><text transform="rotate(-90 591 458)" x="591" y="460">C402</text>
<rect x="605" y="450" width="13" height="32"/><text transform="rotate(-90 611 466)" x="611" y="468">C511</text>
<rect x="628" y="445" width="12" height="10"/><text x="634" y="452">C412</text>
<rect x="628" y="456" width="12" height="10"/><text x="634" y="463">C446</text>
<rect x="628" y="467" width="12" height="10"/><text x="634" y="474">C517</text>
<rect x="641" y="445" width="16" height="10"/><text x="649" y="452">C513</text>
<rect x="659" y="445" width="16" height="10"/><text x="667" y="452">C411</text>
<rect x="645" y="457" width="30" height="13"/><text x="660" y="466">C320</text>
<rect x="680" y="443" width="9" height="22"/><rect x="692" y="443" width="9" height="22"/><rect x="706" y="442" width="9" height="22"/>
<text transform="rotate(-90 684 454)" x="684" y="456">C310</text><text transform="rotate(-90 696 454)" x="696" y="456">C305</text><text transform="rotate(-90 710 453)" x="710" y="455">C308</text>
<rect x="728" y="446" width="13" height="24"/><text transform="rotate(-90 734 458)" x="734" y="460">C301</text>
<rect x="570" y="473" width="22" height="13"/><text x="581" y="482">C405</text>
<rect x="640" y="475" width="18" height="10"/><text x="649" y="482">C517</text>
<rect x="640" y="488" width="22" height="11"/><text x="651" y="496">C518</text>
<rect x="680" y="470" width="28" height="14"/><text x="694" y="479">C313</text>
<rect x="710" y="468" width="16" height="11"/><text x="718" y="476">C506</text>
<rect x="682" y="487" width="28" height="14"/><text x="696" y="496">C303</text>
<rect x="712" y="487" width="16" height="11"/><text x="720" y="495">C307</text>
<rect x="648" y="503" width="28" height="14"/><text x="662" y="512">C315</text>
<rect x="610" y="486" width="16" height="9"/><text x="618" y="493">C434</text>
<rect x="610" y="496" width="16" height="9"/><text x="618" y="503">C501</text>
<rect x="610" y="506" width="16" height="9"/><text x="618" y="513">C406</text>
<rect x="610" y="516" width="16" height="9"/><text x="618" y="523">C407</text>
<rect x="610" y="526" width="16" height="9"/><text x="618" y="533">C408</text>
<rect x="628" y="490" width="9" height="18"/><rect x="628" y="512" width="16" height="9"/><text x="636" y="519">C514</text>
<rect x="628" y="522" width="16" height="9"/><text x="636" y="529">C516</text>
<rect x="646" y="518" width="9" height="18"/><rect x="656" y="518" width="9" height="18"/>
<rect x="582" y="490" width="9" height="20"/><rect x="582" y="512" width="9" height="16"/><rect x="598" y="490" width="9" height="20"/>
<rect x="582" y="520" width="9" height="20"/><rect x="598" y="520" width="9" height="20"/>
<rect x="676" y="510" width="13" height="22"/><text transform="rotate(-90 682 521)" x="682" y="523">C318</text>
<rect x="695" y="510" width="13" height="22"/><text transform="rotate(-90 701 521)" x="701" y="523">C314</text>
<rect x="712" y="510" width="13" height="22"/><text transform="rotate(-90 718 521)" x="718" y="523">C316</text>
<rect x="732" y="502" width="13" height="22"/><text transform="rotate(-90 738 513)" x="738" y="515">C317</text>
<rect x="732" y="525" width="13" height="20"/>
<rect x="600" y="540" width="9" height="18"/><rect x="610" y="540" width="9" height="18"/><rect x="620" y="540" width="9" height="18"/><rect x="630" y="540" width="9" height="18"/><rect x="640" y="540" width="9" height="18"/><rect x="650" y="537" width="9" height="18"/>
<rect x="664" y="534" width="9" height="18"/><rect x="677" y="549" width="9" height="18"/><rect x="692" y="534" width="9" height="18"/><rect x="708" y="534" width="9" height="18"/><rect x="719" y="534" width="9" height="18"/>
<rect x="729" y="545" width="16" height="9"/><text x="737" y="552">C512</text>
<rect x="747" y="545" width="16" height="9"/><text x="755" y="552">C415</text>
<rect x="710" y="556" width="9" height="16"/><rect x="720" y="556" width="9" height="16"/><rect x="730" y="556" width="9" height="16"/><rect x="740" y="556" width="9" height="16"/>
<circle cx="770" cy="562" r="5"/><text x="770" y="564">TP1304</text>
<rect x="577" y="539" width="20" height="11"/><text x="587" y="547">C401</text>
<rect x="597" y="564" width="11" height="20"/><text transform="rotate(-90 602 574)" x="602" y="576">C412</text>
<rect x="613" y="564" width="11" height="20"/><text transform="rotate(-90 618 574)" x="618" y="576">C414</text>
<rect x="600" y="589" width="22" height="12"/><text x="611" y="597">C418</text>
<rect x="797" y="569" width="20" height="11"/><text x="807" y="577">C803</text>
<rect x="664" y="600" width="9" height="20"/><rect x="741" y="602" width="9" height="20"/><text transform="rotate(-90 745 612)" x="745" y="614">R709</text>
<rect x="733" y="624" width="18" height="10"/><text x="742" y="631">C702</text>
<text x="604" y="552">C447</text>
<!-- J2001 area -->
<rect x="280" y="314" width="25" height="16"/><text x="292" y="324">C2009</text>
<rect x="280" y="332" width="25" height="16"/><text x="292" y="342">C2002</text>
<rect x="280" y="350" width="25" height="16"/><text x="292" y="360">C2008</text>
<rect x="280" y="368" width="25" height="16"/><text x="292" y="378">C2013</text>
<rect x="315" y="337" width="8" height="20"/><rect x="323" y="337" width="8" height="20"/>
<rect x="357" y="313" width="20" height="10"/><text x="367" y="320">C2024</text>
<rect x="378" y="313" width="20" height="10"/><text x="388" y="320">C2016</text>
<rect x="512" y="313" width="20" height="10"/><text x="522" y="320">C2010</text>
<rect x="596" y="317" width="14" height="26"/><text transform="rotate(-90 603 330)" x="603" y="332">C2043</text>
<rect x="596" y="345" width="14" height="26"/><text transform="rotate(-90 603 358)" x="603" y="360">C2027</text>
<rect x="576" y="359" width="9" height="20"/>
<text x="452" y="356">J2001</text><text x="536" y="332">50</text><text x="533" y="379">49</text><text x="353" y="379">1</text><text x="352" y="332">2</text>
<line x1="570" y1="322" x2="570" y2="335"/>
<rect x="345" y="387" width="9" height="20"/><rect x="355" y="387" width="9" height="20"/><rect x="365" y="387" width="9" height="20"/><rect x="375" y="387" width="9" height="20"/><rect x="385" y="387" width="9" height="20"/>
<rect x="502" y="387" width="9" height="20"/><rect x="512" y="387" width="9" height="20"/>
<rect x="338" y="426" width="18" height="9"/><text x="347" y="433">C1431</text>
<rect x="338" y="435" width="18" height="9"/><text x="347" y="442">C1416</text>
<rect x="338" y="444" width="18" height="9"/><text x="347" y="451">C1411</text>
<rect x="338" y="453" width="18" height="9"/><text x="347" y="460">C1424</text>
<rect x="372" y="427" width="26" height="15"/><text x="385" y="437">C2025</text>
<rect x="438" y="426" width="18" height="9"/><text x="447" y="433">R2020</text>
<rect x="456" y="424" width="9" height="20"/><rect x="466" y="424" width="9" height="20"/>
<rect x="477" y="429" width="20" height="10"/><text x="487" y="436">C2007</text>
<rect x="497" y="429" width="20" height="10"/><text x="507" y="436">C2003</text>
<rect x="370" y="458" width="18" height="9"/><text x="379" y="465">C2607</text>
<text x="376" y="488">U2603</text>
<rect x="352" y="478" width="9" height="20"/>
<rect x="343" y="496" width="18" height="9"/><text x="352" y="503">C1412</text>
<rect x="333" y="511" width="9" height="20"/><rect x="344" y="511" width="9" height="20"/>
<rect x="366" y="505" width="20" height="12"/><text x="376" y="513">C2602</text>
<rect x="368" y="517" width="20" height="11"/><text x="378" y="525">C1414</text>
<rect x="390" y="492" width="16" height="25"/><text transform="rotate(-90 398 504)" x="398" y="506">R6601</text>
<rect x="345" y="538" width="20" height="11"/><text x="355" y="546">C1409</text>
<rect x="367" y="530" width="8" height="18"/><rect x="376" y="530" width="8" height="18"/><rect x="385" y="530" width="8" height="18"/><rect x="398" y="530" width="8" height="18"/><rect x="412" y="532" width="8" height="18"/>
<rect x="414" y="460" width="15" height="25"/><text transform="rotate(-90 421 472)" x="421" y="474">C6622</text>
<rect x="432" y="460" width="15" height="25"/><text transform="rotate(-90 439 472)" x="439" y="474">C6625</text>
<rect x="420" y="485" width="40" height="30"/><text x="440" y="501">D6603</text>
<rect x="424" y="510" width="18" height="9"/><text x="433" y="516">C1426</text>
<rect x="424" y="519" width="18" height="9"/><text x="433" y="525">C1423</text>
<rect x="432" y="532" width="20" height="10"/><text x="442" y="539">C6627</text>
<rect x="446" y="542" width="20" height="10"/><text x="456" y="549">C1427</text>
<rect x="458" y="456" width="18" height="9"/><text x="467" y="463">C6657</text>
<rect x="460" y="470" width="30" height="32"/><text x="475" y="488">U6601</text>
<rect x="478" y="500" width="9" height="18"/>
<rect x="492" y="456" width="9" height="20"/><rect x="503" y="482" width="16" height="9"/><text x="511" y="489">C6623</text>
<rect x="503" y="497" width="9" height="20"/><rect x="507" y="454" width="12" height="24"/><text transform="rotate(-90 513 466)" x="513" y="468">C1901</text>
<rect x="477" y="529" width="36" height="17"/><text x="495" y="540">L6612</text>
<rect x="522" y="461" width="38" height="27"/><text x="541" y="477">U1901</text>
<rect x="515" y="488" width="46" height="38"/><text x="538" y="510">L1901</text>
<rect x="567" y="490" width="12" height="22"/><text transform="rotate(-90 573 501)" x="573" y="503">C1902</text>
<rect x="356" y="478" width="9" height="18"/>
<!-- U1402 -->
<rect x="347" y="553" width="246" height="280"/><text transform="rotate(-90 470 690)" x="470" y="692">U1402</text>
<text x="520" y="564">J3009</text><text x="355" y="625">A</text><text x="355" y="665">E</text><text x="355" y="700">K</text><text x="355" y="733">M</text><text x="355" y="760">V</text><text x="355" y="790">U</text>
<rect x="313" y="602" width="32" height="20"/><text x="329" y="614">C1101</text>
<rect x="292" y="625" width="55" height="60"/><text transform="rotate(-90 320 655)" x="320" y="657">L1101</text>
<rect x="292" y="690" width="55" height="65"/><text transform="rotate(-90 320 722)" x="320" y="724">L1102</text>
<rect x="292" y="760" width="55" height="60"/><text transform="rotate(-90 320 790)" x="320" y="792">L1103</text>
<rect x="312" y="825" width="34" height="16"/><text x="329" y="835">C1109</text>
<rect x="292" y="828" width="10" height="22"/>
<rect x="296" y="752" width="20" height="10"/><text x="306" y="759">C1002</text>
<rect x="349" y="832" width="18" height="9"/><text x="358" y="839">R1506</text>
<rect x="349" y="842" width="18" height="9"/><text x="358" y="849">R1521</text>
<rect x="371" y="838" width="26" height="13"/><text x="384" y="847">R1520</text>
<rect x="399" y="838" width="24" height="13"/><text x="411" y="847">R1519</text>
<rect x="424" y="838" width="20" height="13"/><text x="434" y="847">R1401</text>
<rect x="447" y="836" width="26" height="15"/><text x="460" y="846">C1402</text>
<rect x="475" y="838" width="20" height="13"/><text x="485" y="847">C1404</text>
<rect x="497" y="836" width="26" height="15"/><text x="510" y="846">C1422</text>
<!-- U1000 area -->
<rect x="127" y="635" width="155" height="135"/><text transform="rotate(-90 205 702)" x="205" y="704">U1000</text>
<rect x="100" y="600" width="26" height="13"/><text x="113" y="609">C1034</text>
<rect x="130" y="600" width="23" height="13"/><text x="141" y="609">LB1101</text>
<rect x="156" y="600" width="23" height="13"/><text x="167" y="609">LB1102</text>
<rect x="200" y="600" width="20" height="9"/><text x="210" y="607">C1013</text>
<rect x="234" y="600" width="18" height="9"/><text x="243" y="607">C1010</text>
<rect x="254" y="600" width="18" height="9"/><text x="263" y="607">C1204</text>
<rect x="274" y="600" width="18" height="9"/><text x="283" y="607">C1027</text>
<rect x="93" y="615" width="18" height="9"/><text x="102" y="622">R1208</text>
<rect x="93" y="624" width="18" height="9"/><text x="102" y="631">R1210</text>
<rect x="93" y="633" width="18" height="9"/><text x="102" y="640">R1214</text>
<rect x="113" y="644" width="16" height="8"/><text x="121" y="650">R1216</text>
<rect x="115" y="618" width="9" height="20"/><rect x="125" y="618" width="9" height="20"/><rect x="133" y="618" width="9" height="20"/>
<rect x="163" y="614" width="16" height="23"/><text transform="rotate(-90 171 625)" x="171" y="627">C1124</text>
<rect x="180" y="614" width="9" height="20"/><rect x="190" y="614" width="9" height="20"/>
<rect x="203" y="611" width="13" height="24"/><rect x="221" y="611" width="13" height="24"/><rect x="240" y="611" width="13" height="24"/><rect x="257" y="611" width="13" height="24"/><rect x="274" y="611" width="13" height="24"/>
<text transform="rotate(-90 209 623)" x="209" y="625">C1030</text><text transform="rotate(-90 227 623)" x="227" y="625">C1029</text><text transform="rotate(-90 246 623)" x="246" y="625">C1070</text><text transform="rotate(-90 263 623)" x="263" y="625">C1033</text><text transform="rotate(-90 280 623)" x="280" y="625">C1053</text>
<rect x="95" y="645" width="13" height="24"/><text transform="rotate(-90 101 657)" x="101" y="659">C1123</text>
<rect x="113" y="654" width="13" height="24"/><text transform="rotate(-90 119 666)" x="119" y="668">C1122</text>
<rect x="95" y="671" width="18" height="9"/><text x="104" y="678">C1128</text>
<rect x="113" y="681" width="18" height="9"/><text x="122" y="688">C1201</text>
<rect x="113" y="690" width="18" height="9"/><text x="122" y="697">R1229</text>
<rect x="113" y="699" width="18" height="9"/><text x="122" y="706">C1206</text>
<rect x="113" y="708" width="18" height="9"/><text x="122" y="715">C1203</text>
<rect x="95" y="690" width="13" height="26"/><text transform="rotate(-90 101 703)" x="101" y="705">C1014</text>
<rect x="97" y="724" width="20" height="9"/><text x="107" y="731">C1013</text>
<rect x="113" y="734" width="18" height="9"/><text x="122" y="741">R1201</text>
<rect x="95" y="743" width="18" height="9"/><text x="104" y="750">C310</text>
<rect x="113" y="743" width="18" height="9"/><text x="122" y="750">R1202</text>
<rect x="95" y="752" width="18" height="9"/><text x="104" y="759">R1204</text>
<rect x="113" y="752" width="18" height="9"/><text x="122" y="759">C1048</text>
<rect x="95" y="761" width="18" height="9"/><text x="104" y="768">C1205</text>
<rect x="113" y="761" width="18" height="9"/><text x="122" y="768">R1206</text>
<rect x="104" y="777" width="24" height="13"/><text x="116" y="786">C1036</text>
<rect x="132" y="777" width="9" height="20"/><rect x="143" y="782" width="9" height="20"/>
<circle cx="157" cy="778" r="5"/><text x="157" y="780">TP701</text>
<rect x="162" y="777" width="9" height="20"/><rect x="172" y="777" width="9" height="20"/>
<rect x="142" y="797" width="24" height="13"/><text x="154" y="806">C1027</text>
<rect x="162" y="795" width="9" height="18"/><rect x="172" y="795" width="9" height="18"/>
<rect x="191" y="779" width="13" height="24"/><text transform="rotate(-90 197 791)" x="197" y="793">C1040</text>
<rect x="206" y="789" width="10" height="16"/>
<rect x="221" y="779" width="13" height="24"/><text transform="rotate(-90 227 791)" x="227" y="793">C1041</text>
<rect x="251" y="779" width="13" height="24"/><text transform="rotate(-90 257 791)" x="257" y="793">C1043</text>
<rect x="221" y="803" width="18" height="9"/><text x="230" y="810">C1021</text>
<rect x="196" y="808" width="24" height="13"/><text x="208" y="817">C1022</text>
<rect x="221" y="812" width="18" height="9"/><text x="230" y="819">R1215</text>
<rect x="249" y="807" width="18" height="9"/><text x="258" y="814">C1039</text>
<rect x="249" y="818" width="9" height="20"/><rect x="258" y="818" width="9" height="20"/>
<rect x="249" y="841" width="18" height="9"/><text x="258" y="848">C1018</text>
<rect x="164" y="815" width="20" height="9"/><text x="174" y="822">C1017</text>
<circle cx="176" cy="832" r="5"/><text x="176" y="834">TP714</text>
<rect x="184" y="840" width="20" height="9"/><text x="194" y="847">C1049</text>
<rect x="205" y="827" width="13" height="24"/><text transform="rotate(-90 211 839)" x="211" y="841">C1024</text>
<rect x="221" y="827" width="13" height="24"/><text transform="rotate(-90 227 839)" x="227" y="841">C1028</text>
<path d="M84,806 L84,796 L78,796 L90,784 L102,796 L96,796 L96,806 Z"/>
<rect x="284" y="626" width="9" height="20"/><rect x="284" y="647" width="9" height="20"/><rect x="284" y="670" width="9" height="20"/><rect x="284" y="697" width="9" height="24"/><rect x="284" y="732" width="9" height="20"/>
<!-- U5201 area -->
<rect x="118" y="445" width="120" height="105"/><text transform="rotate(-90 172 497)" x="172" y="499">U5201</text>
<text x="120" y="460">A</text><text x="120" y="492">E</text><text x="120" y="516">K</text><text x="120" y="546">R</text><text x="203" y="454">S5</text>
<rect x="100" y="424" width="9" height="20"/><text transform="rotate(-90 104 434)" x="104" y="436">C5240</text>
<rect x="100" y="444" width="9" height="20"/><text transform="rotate(-90 104 454)" x="104" y="456">C5239</text>
<rect x="116" y="424" width="9" height="20"/><rect x="126" y="424" width="9" height="20"/><rect x="136" y="424" width="9" height="20"/><rect x="146" y="424" width="9" height="20"/><rect x="156" y="424" width="9" height="20"/><rect x="166" y="424" width="9" height="20"/><rect x="176" y="424" width="9" height="20"/><rect x="186" y="424" width="9" height="20"/>
<text transform="rotate(-90 120 434)" x="120" y="436">C5229</text><text transform="rotate(-90 130 434)" x="130" y="436">C5237</text><text transform="rotate(-90 140 434)" x="140" y="436">C5238</text><text transform="rotate(-90 150 434)" x="150" y="436">C5244</text><text transform="rotate(-90 160 434)" x="160" y="436">C5448</text><text transform="rotate(-90 170 434)" x="170" y="436">L5451</text><text transform="rotate(-90 180 434)" x="180" y="436">C5452</text><text transform="rotate(-90 190 434)" x="190" y="436">C5216</text>
<rect x="204" y="428" width="30" height="13"/><text x="219" y="437">C5230</text><text x="249" y="437">C5231</text>
<rect x="239" y="444" width="11" height="20"/><rect x="239" y="464" width="11" height="18"/><rect x="239" y="484" width="11" height="22"/>
<text transform="rotate(-90 244 454)" x="244" y="456">C5203</text><text transform="rotate(-90 244 473)" x="244" y="475">R5220</text><text transform="rotate(-90 244 495)" x="244" y="497">C5223</text>
<circle cx="258" cy="455" r="5"/><text x="258" y="457">TP5302</text>
<rect x="256" y="470" width="9" height="18"/>
<rect x="257" y="494" width="15" height="25"/><text transform="rotate(-90 264 506)" x="264" y="508">C5222</text>
<rect x="277" y="494" width="15" height="25"/><text transform="rotate(-90 284 506)" x="284" y="508">C5220</text>
<text transform="rotate(-90 280 466)" x="280" y="468">D5202</text><text transform="rotate(-90 302 466)" x="302" y="468">D5201</text>
<line x1="270" y1="487" x2="296" y2="487" class="thin"/><line x1="270" y1="490" x2="296" y2="490" class="thin"/>
<rect x="245" y="520" width="70" height="52"/><text x="280" y="548">L5301</text>
<rect x="93" y="492" width="18" height="9"/><text x="102" y="499">C5242</text>
<rect x="93" y="502" width="18" height="9"/><text x="102" y="509">C5236</text>
<rect x="93" y="512" width="18" height="9"/><text x="102" y="519">C5235</text>
<circle cx="92" cy="531" r="5"/><text x="92" y="533">TP5304</text>
<circle cx="97" cy="546" r="5"/><text x="97" y="548">TP530</text>
<rect x="111" y="559" width="20" height="9"/><text x="121" y="566">C5223</text>
<circle cx="135" cy="566" r="5"/><text x="135" y="568">R5301</text>
<rect x="160" y="558" width="9" height="20"/><rect x="170" y="558" width="9" height="20"/>
<rect x="179" y="560" width="20" height="10"/><text x="189" y="567">C5227</text>
<rect x="199" y="560" width="20" height="10"/><text x="209" y="567">C5228</text>
<text x="150" y="585">TP5305</text>
<!-- Z54xx area -->
<path d="M70,356 L70,346 L64,346 L76,334 L88,346 L82,346 L82,356 Z"/>
<rect x="103" y="327" width="18" height="9"/><text x="112" y="334">L5460</text>
<rect x="120" y="326" width="9" height="18"/><rect x="129" y="326" width="9" height="18"/>
<text x="160" y="341">Z5402</text>
<rect x="95" y="338" width="28" height="22"/><text x="109" y="351">Z5403</text>
<rect x="95" y="360" width="16" height="9"/><text x="103" y="367">L5461</text>
<rect x="95" y="371" width="9" height="14"/>
<rect x="131" y="352" width="16" height="8"/><text x="139" y="358">C5404</text>
<rect x="131" y="361" width="16" height="8"/><text x="139" y="367">C5405</text>
<rect x="148" y="354" width="22" height="28"/><text transform="rotate(-90 159 368)" x="159" y="370">Z5410</text>
<rect x="152" y="349" width="16" height="8"/><text x="160" y="355">C5402</text>
<rect x="182" y="326" width="9" height="18"/><rect x="191" y="326" width="9" height="18"/>
<rect x="186" y="342" width="20" height="26"/><text transform="rotate(-90 196 355)" x="196" y="357">U5401</text>
<rect x="205" y="354" width="16" height="9"/><text x="213" y="361">L5435</text>
<rect x="210" y="325" width="20" height="28"/><text transform="rotate(-90 220 339)" x="220" y="341">Z5401</text>
</svg>
</body></html>
